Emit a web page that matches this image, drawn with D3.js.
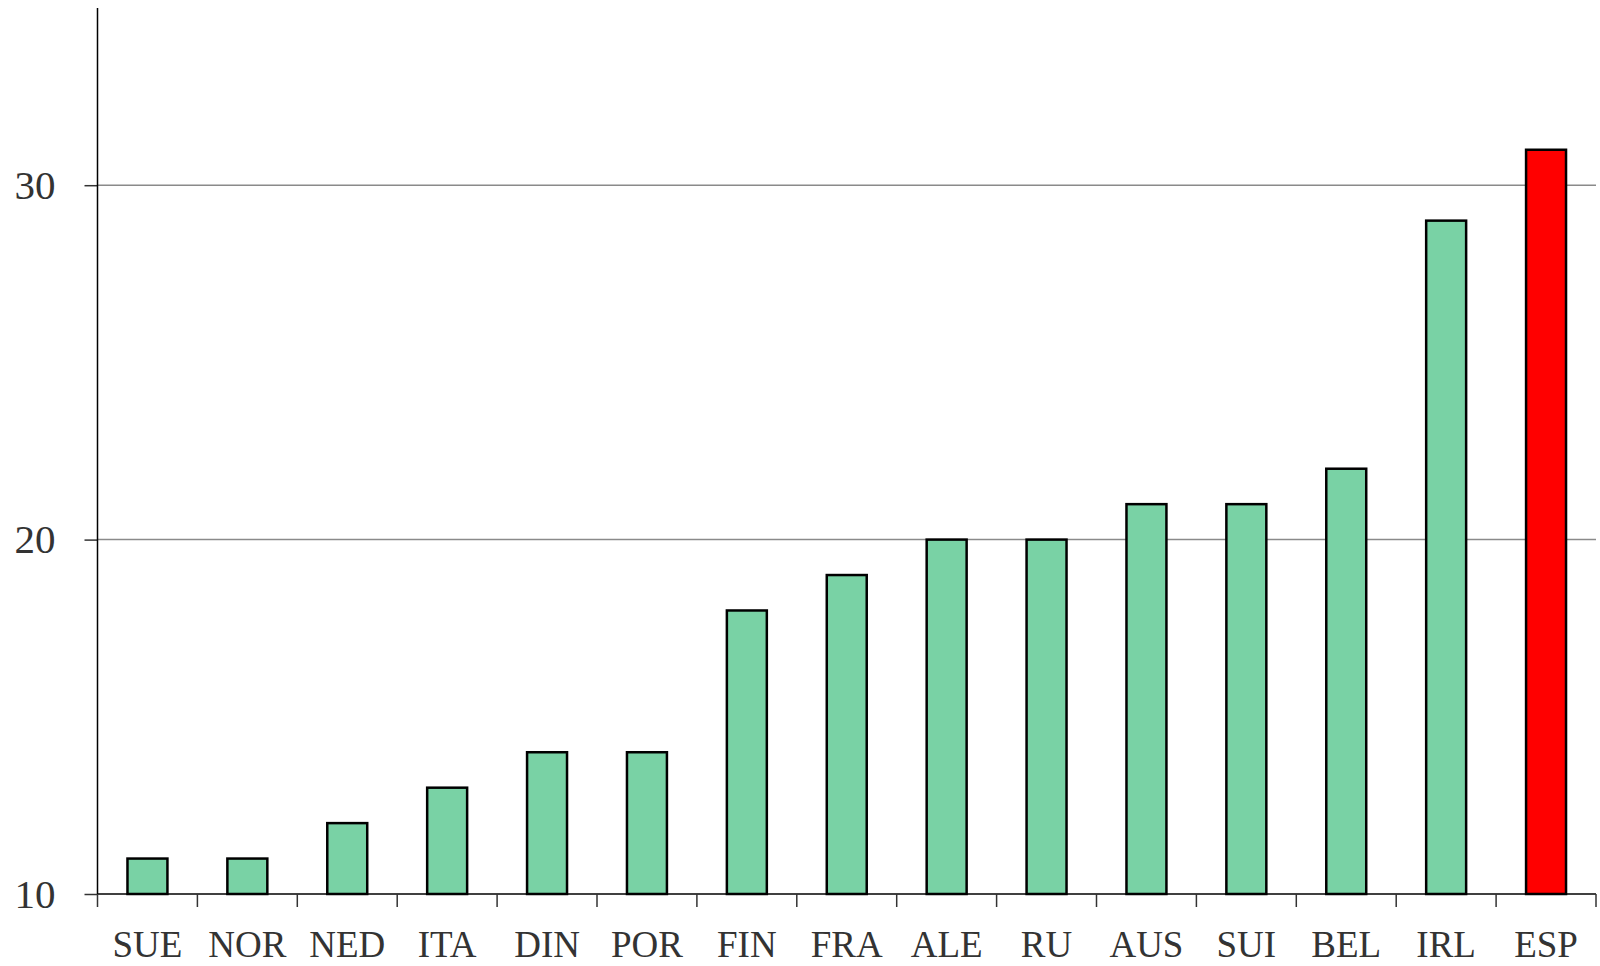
<!DOCTYPE html>
<html>
<head>
<meta charset="utf-8">
<script src="https://cdn.jsdelivr.net/npm/d3@7"></script>
<style>
  body { margin: 0; background: #fff; }
  #vis { width: 1600px; height: 966px; }
  text { font-family: "Liberation Serif", serif; fill: #333; }
</style>
</head>
<body>
<div id="vis"></div>
<script>
var countries = ["SUE", "NOR", "NED", "ITA", "DIN", "POR", "FIN", "FRA", "ALE", "RU", "AUS", "SUI", "BEL", "IRL", "ESP"];
var values = [11, 11, 12, 13, 14, 14, 18, 19, 20, 20, 21, 21, 22, 29, 31];
var yTicks = [10, 20, 30];
var highlight = "ESP";

var margin = { top: 8, right: 4, bottom: 72, left: 97.5 };
var width = 1600 - margin.left - margin.right;
var height = 966 - margin.top - margin.bottom;

var svg = d3.select('#vis')
  .append('svg')
  .attr('width', 1600)
  .attr('height', 966)
  .append('g')
  .attr('transform', 'translate(' + margin.left + ',' + margin.top + ')');

var x_scale = d3.scaleBand()
  .domain(countries)
  .range([0, width])
  .paddingInner(0.6)
  .paddingOuter(0.3);

var y_scale = d3.scaleLinear()
  .domain([10, 35])
  .range([height, 0]);

// gridlines
svg.selectAll('.grid')
  .data(yTicks.filter(function(d) { return d > 10; }))
  .enter()
  .append('line')
  .attr('class', 'grid')
  .attr('x1', 0)
  .attr('x2', width)
  .attr('y1', function(d) { return y_scale(d); })
  .attr('y2', function(d) { return y_scale(d); })
  .attr('stroke', '#8a8a8a')
  .attr('stroke-width', 1.5);

var data = countries.map(function(c, i) {
  return { country: c, value: values[i] };
});

svg.selectAll('.bar')
  .data(data)
  .enter()
  .append('rect')
  .attr('class', 'bar')
  .attr('x', function(d) { return x_scale(d.country); })
  .attr('width', x_scale.bandwidth())
  .attr('y', function(d) { return y_scale(d.value); })
  .attr('height', function(d) { return height - y_scale(d.value); })
  .attr('fill', function(d) { return d.country === highlight ? '#ff0000' : '#79d2a5'; })
  .attr('stroke', '#000')
  .attr('stroke-width', 2.5);

// y axis
var y_axis = d3.axisLeft(y_scale)
  .tickValues(yTicks)
  .tickSize(13)
  .tickPadding(29);

var gy = svg.append('g')
  .attr('class', 'y axis')
  .call(y_axis);
gy.select('.domain').remove();
gy.append('line')
  .attr('x1', 0).attr('x2', 0)
  .attr('y1', 0).attr('y2', height)
  .attr('stroke', '#000')
  .attr('stroke-width', 1.5);
gy.selectAll('.tick line').attr('stroke', '#333').attr('stroke-width', 1.5);
gy.selectAll('.tick text')
  .style('font-size', '41px')
  .style('font-family', '"Liberation Serif", serif')
  .attr('fill', '#333');

// x axis with ticks at band edges
var gx = svg.append('g')
  .attr('class', 'x axis')
  .attr('transform', 'translate(0,' + height + ')');
gx.append('line')
  .attr('x1', 0).attr('x2', width)
  .attr('y1', 0).attr('y2', 0)
  .attr('stroke', '#000')
  .attr('stroke-width', 1.5);
var edges = countries.map(function(c) { return x_scale(c) - x_scale.step() * x_scale.paddingInner() / 2; });
edges.push(width);
gx.selectAll('.edge')
  .data(edges)
  .enter()
  .append('line')
  .attr('class', 'edge')
  .attr('x1', function(d) { return d; })
  .attr('x2', function(d) { return d; })
  .attr('y1', 0)
  .attr('y2', 13)
  .attr('stroke', '#333')
  .attr('stroke-width', 1.5);
gx.selectAll('.lab')
  .data(countries)
  .enter()
  .append('text')
  .attr('class', 'lab')
  .attr('x', function(d) { return x_scale(d) + x_scale.bandwidth() / 2; })
  .attr('y', 63)
  .attr('text-anchor', 'middle')
  .style('font-size', '37px')
  .text(function(d) { return d; });
</script>
</body>
</html>
